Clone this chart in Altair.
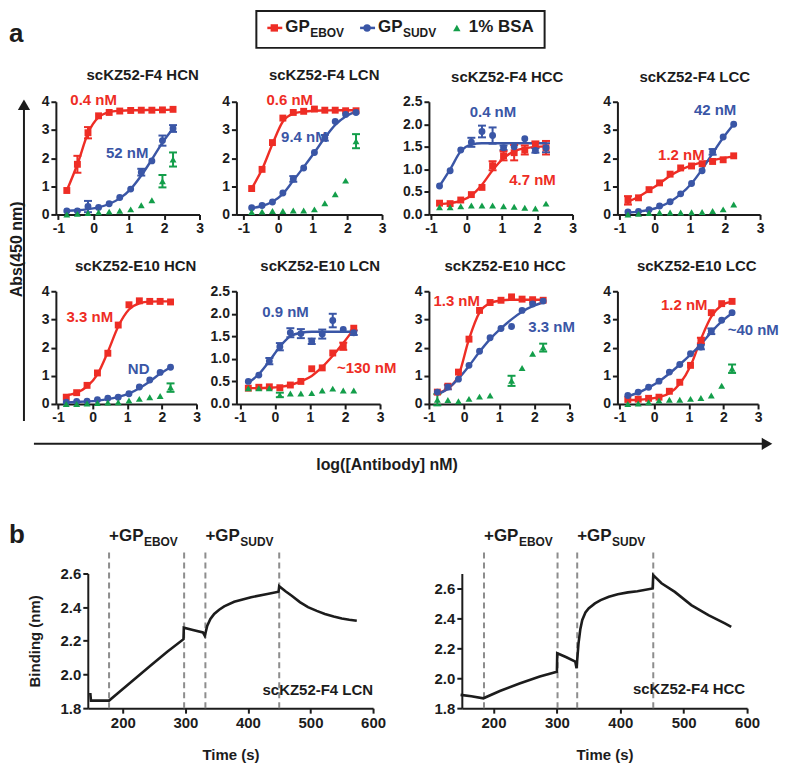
import altair as alt
import pandas as pd

FONT = "Liberation Sans"
INK = "#1c1c1c"
RED = "#EE2D25"
BLUE = "#3A56A6"
GREEN = "#139E4A"
DASH_GRAY = "#8d8d8d"

SERIES = ["EBOV", "SUDV", "BSA"]
SERIES_SHAPES = ["square", "circle", "triangle-up"]

LOG_CONC = [-0.76, -0.46, -0.16, 0.14, 0.44, 0.74, 1.05, 1.35, 1.65, 1.95, 2.25]
X_TICKS = [-1, 0, 1, 2, 3]
Y_TICKS_4 = [0, 1, 2, 3, 4]
Y_TICKS_25 = [0, 0.5, 1.0, 1.5, 2.0, 2.5]

# ---------------- panel a data ----------------
F4_HCN_EBOV = [0.85, 1.78, 2.9, 3.5, 3.62, 3.67, 3.69, 3.7, 3.7, 3.71, 3.73]
F4_HCN_EBOV_ERR = [0, 0.3, 0.2, 0, 0, 0, 0, 0, 0, 0, 0]
F4_HCN_EBOV_FIT = [0.85, 1.78, 2.88, 3.45, 3.63, 3.68, 3.7, 3.7, 3.71, 3.71, 3.72]
F4_HCN_SUDV = [0.12, 0.12, 0.28, 0.25, 0.38, 0.6, 0.9, 1.5, 1.9, 2.62, 3.05]
F4_HCN_SUDV_ERR = [0, 0, 0.2, 0, 0, 0, 0, 0.12, 0, 0.18, 0.12]
F4_HCN_SUDV_FIT = [0.13, 0.15, 0.19, 0.25, 0.37, 0.57, 0.9, 1.38, 1.95, 2.55, 3.05]
F4_HCN_BSA = [0.0, 0.02, 0.05, 0.08, 0.1, 0.13, 0.18, 0.33, 0.5, 1.18, 1.95]
F4_HCN_BSA_ERR = [0, 0, 0, 0, 0, 0, 0, 0, 0, 0.22, 0.25]
F4_HCN_EC50 = ["0.4 nM", "52 nM"]

F4_LCN_EBOV = [0.92, 1.6, 2.55, 3.42, 3.62, 3.66, 3.74, 3.7, 3.7, 3.68, 3.68]
F4_LCN_EBOV_ERR = [0, 0, 0, 0, 0, 0, 0, 0, 0, 0, 0]
F4_LCN_EBOV_FIT = [0.92, 1.6, 2.5, 3.3, 3.58, 3.65, 3.68, 3.69, 3.7, 3.7, 3.7]
F4_LCN_SUDV = [0.24, 0.32, 0.44, 0.76, 1.26, 1.65, 2.2, 2.72, 3.3, 3.55, 3.62]
F4_LCN_SUDV_ERR = [0, 0, 0, 0, 0.1, 0, 0, 0.1, 0, 0, 0]
F4_LCN_SUDV_FIT = [0.22, 0.3, 0.45, 0.73, 1.2, 1.68, 2.2, 2.72, 3.18, 3.48, 3.65]
F4_LCN_BSA = [0.09, 0.1, 0.12, 0.12, 0.14, 0.14, 0.18, 0.4, 0.72, 1.2, 2.6]
F4_LCN_BSA_ERR = [0, 0, 0, 0, 0, 0, 0, 0, 0, 0, 0.25]
F4_LCN_EC50 = ["0.6 nM", "9.4 nM"]

F4_HCC_EBOV = [0.25, 0.24, 0.32, 0.44, 0.6, 1.08, 1.3, 1.37, 1.43, 1.55, 1.48]
F4_HCC_EBOV_ERR = [0, 0, 0, 0, 0, 0.1, 0.1, 0.17, 0.1, 0.07, 0.15]
F4_HCC_EBOV_FIT = [0.23, 0.25, 0.3, 0.42, 0.66, 0.98, 1.25, 1.4, 1.47, 1.5, 1.51]
F4_HCC_SUDV = [0.63, 0.97, 1.43, 1.6, 1.84, 1.75, 1.48, 1.5, 1.68, 1.42, 1.48]
F4_HCC_SUDV_ERR = [0, 0, 0, 0.1, 0.13, 0.18, 0.05, 0, 0, 0.05, 0.1]
F4_HCC_SUDV_FIT = [0.63, 1.0, 1.4, 1.55, 1.58, 1.58, 1.58, 1.58, 1.58, 1.58, 1.58]
F4_HCC_BSA = [0.16, 0.16, 0.18, 0.2, 0.2, 0.2, 0.18, 0.17, 0.15, 0.13, 0.24]
F4_HCC_BSA_ERR = [0, 0, 0, 0, 0, 0, 0, 0, 0, 0, 0]
F4_HCC_EC50 = ["4.7 nM", "0.4 nM"]

F4_LCC_EBOV = [0.5, 0.59, 0.88, 1.12, 1.43, 1.65, 1.72, 1.8, 1.88, 1.94, 2.08]
F4_LCC_EBOV_ERR = [0.15, 0, 0, 0, 0, 0, 0, 0, 0, 0, 0]
F4_LCC_EBOV_FIT = [0.45, 0.63, 0.86, 1.1, 1.37, 1.58, 1.74, 1.85, 1.93, 2.0, 2.06]
F4_LCC_SUDV = [0.09, 0.11, 0.17, 0.3, 0.45, 0.73, 1.1, 1.55, 2.22, 2.75, 3.2]
F4_LCC_SUDV_ERR = [0, 0, 0, 0, 0, 0, 0, 0, 0.1, 0, 0]
F4_LCC_SUDV_FIT = [0.07, 0.1, 0.16, 0.27, 0.45, 0.72, 1.1, 1.6, 2.17, 2.72, 3.2]
F4_LCC_BSA = [0.0, 0.02, 0.05, 0.07, 0.07, 0.07, 0.08, 0.09, 0.12, 0.18, 0.35]
F4_LCC_BSA_ERR = [0, 0, 0, 0, 0, 0, 0, 0, 0, 0, 0]
F4_LCC_EC50 = ["1.2 nM", "42 nM"]

E10_HCN_EBOV = [0.24, 0.4, 0.66, 1.1, 1.8, 2.8, 3.52, 3.66, 3.64, 3.64, 3.62]
E10_HCN_EBOV_ERR = [0, 0, 0, 0, 0, 0, 0, 0, 0, 0, 0]
E10_HCN_EBOV_FIT = [0.3, 0.4, 0.62, 1.05, 1.85, 2.75, 3.35, 3.57, 3.63, 3.64, 3.64]
E10_HCN_SUDV = [0.06, 0.09, 0.1, 0.15, 0.2, 0.24, 0.36, 0.6, 0.85, 1.12, 1.3]
E10_HCN_SUDV_ERR = [0, 0, 0, 0, 0, 0, 0, 0, 0, 0, 0]
E10_HCN_SUDV_FIT = [0.05, 0.07, 0.09, 0.12, 0.17, 0.25, 0.37, 0.56, 0.8, 1.07, 1.3]
E10_HCN_BSA = [0.0, 0.0, 0.02, 0.03, 0.05, 0.06, 0.12, 0.18, 0.24, 0.28, 0.58]
E10_HCN_BSA_ERR = [0, 0, 0, 0, 0, 0, 0, 0, 0, 0, 0.15]
E10_HCN_EC50 = ["3.3 nM", "ND"]

E10_LCN_EBOV = [0.35, 0.37, 0.38, 0.36, 0.42, 0.5, 0.78, 0.8, 1.13, 1.28, 1.68]
E10_LCN_EBOV_ERR = [0, 0, 0, 0, 0, 0, 0, 0, 0, 0.08, 0]
E10_LCN_EBOV_FIT = [0.35, 0.35, 0.36, 0.38, 0.42, 0.5, 0.62, 0.82, 1.07, 1.35, 1.66]
E10_LCN_SUDV = [0.5, 0.64, 0.95, 1.27, 1.58, 1.56, 1.39, 1.55, 1.85, 1.65, 1.58]
E10_LCN_SUDV_ERR = [0, 0, 0.07, 0.08, 0.1, 0.1, 0.06, 0.1, 0.15, 0, 0.05]
E10_LCN_SUDV_FIT = [0.47, 0.66, 0.95, 1.27, 1.5, 1.58, 1.6, 1.6, 1.6, 1.6, 1.6]
E10_LCN_BSA = [0.35, 0.35, 0.35, 0.2, 0.23, 0.23, 0.24, 0.3, 0.34, 0.3, 0.3]
E10_LCN_BSA_ERR = [0, 0, 0, 0.05, 0, 0, 0, 0, 0, 0, 0]
E10_LCN_EC50 = ["~130 nM", "0.9 nM"]

E10_HCC_EBOV = [0.42, 0.63, 1.13, 2.3, 3.32, 3.6, 3.68, 3.8, 3.72, 3.7, 3.68]
E10_HCC_EBOV_ERR = [0, 0, 0, 0, 0, 0, 0, 0, 0, 0, 0]
E10_HCC_EBOV_FIT = [0.38, 0.55, 1.0, 2.3, 3.25, 3.58, 3.67, 3.7, 3.7, 3.7, 3.7]
E10_HCC_SUDV = [0.42, 0.6, 0.88, 1.37, 1.87, 2.35, 2.68, 2.75, 3.32, 3.55, 3.65]
E10_HCC_SUDV_ERR = [0, 0.08, 0, 0, 0, 0, 0, 0, 0, 0, 0]
E10_HCC_SUDV_FIT = [0.33, 0.55, 0.9, 1.35, 1.85, 2.3, 2.68, 3.0, 3.27, 3.47, 3.6]
E10_HCC_BSA = [0.15, 0.14, 0.1, 0.18, 0.26, 0.3, None, 0.82, 1.28, 1.78, 2.0]
E10_HCC_BSA_ERR = [0.2, 0, 0, 0, 0, 0, 0, 0.18, 0, 0, 0.14]
E10_HCC_EC50 = ["1.3 nM", "3.3 nM"]

E10_LCC_EBOV = [0.16, 0.17, 0.2, 0.24, 0.45, 0.77, 1.37, 2.25, 3.24, 3.56, 3.64]
E10_LCC_EBOV_ERR = [0, 0, 0, 0, 0, 0, 0, 0.1, 0, 0, 0]
E10_LCC_EBOV_FIT = [0.14, 0.15, 0.18, 0.24, 0.38, 0.72, 1.35, 2.3, 3.1, 3.5, 3.63]
E10_LCC_SUDV = [0.3, 0.42, 0.59, 0.81, 1.13, 1.4, 1.78, 2.02, 2.58, 2.97, 3.24]
E10_LCC_SUDV_ERR = [0, 0, 0, 0, 0, 0, 0, 0.08, 0.1, 0, 0]
E10_LCC_SUDV_FIT = [0.27, 0.4, 0.58, 0.8, 1.08, 1.4, 1.75, 2.12, 2.55, 2.93, 3.22]
E10_LCC_BSA = [0.0, 0.02, 0.06, 0.12, 0.15, 0.15, 0.18, 0.21, 0.3, 0.65, 1.25]
E10_LCC_BSA_ERR = [0, 0, 0, 0, 0, 0, 0, 0, 0, 0, 0.15]
E10_LCC_EC50 = ["1.2 nM", "~40 nM"]

# ---------------- panel b data ----------------
B_X_TICKS = [200, 300, 400, 500, 600]
B_Y_TICKS = [1.8, 2.0, 2.2, 2.4, 2.6]

LCN_TIME = [148, 149, 165, 178, 191, 218, 245, 271, 297, 297.5, 312, 328, 331, 335, 340,
            346, 354, 362, 378, 405, 431, 449, 450, 460, 470, 483, 496, 510, 523, 537,
            550, 562, 574]
LCN_BIND = [1.89, 1.845, 1.845, 1.845, 1.885, 1.97, 2.055, 2.135, 2.21, 2.278, 2.265, 2.25,
            2.23, 2.29, 2.33, 2.36, 2.385, 2.405, 2.432, 2.459, 2.478, 2.492, 2.525, 2.495,
            2.468, 2.43, 2.40, 2.378, 2.36, 2.345, 2.333, 2.325, 2.319]
LCN_EVENTS = [178, 298, 332, 450]

HCC_TIME = [148, 165, 184, 210, 241, 273, 300, 300.5, 315, 329, 331, 334, 337, 340, 345,
            350, 360, 369, 382, 396, 412, 427, 451, 452, 465, 486, 512, 539, 565, 575]
HCC_BIND = [1.889, 1.88, 1.866, 1.915, 1.965, 2.011, 2.044, 2.167, 2.14, 2.111, 2.067, 2.23,
            2.33, 2.39, 2.44, 2.467, 2.50, 2.522, 2.545, 2.562, 2.574, 2.582, 2.6, 2.689,
            2.635, 2.577, 2.489, 2.422, 2.367, 2.344]
HCC_EVENTS = [185, 301, 332, 452]

EVENT_SUBS = ["EBOV", "SUDV"]
LEGEND_MAIN = ["GP", "GP", "1% BSA"]
LEGEND_SUB = ["EBOV", "SUDV", ""]

ONE = pd.DataFrame({"k": [0]})


def txt(s, x, y, size, color=INK, align="left", baseline="middle", angle=0):
    return alt.Chart(ONE).mark_text(
        text=s, font=FONT, fontSize=size, fontWeight="bold", color=color,
        align=align, baseline=baseline, angle=angle
    ).encode(x=alt.value(x), y=alt.value(y))


def spacer(w, h):
    return alt.Chart(ONE).mark_point(opacity=0, size=1).encode(
        x=alt.value(0), y=alt.value(0)).properties(width=w, height=h)


def panel(title, title_dx, xdom, cell_w, plot_w, ydom, yticks, fmt,
          ebov, ebov_err, ebov_fit, sudv, sudv_err, sudv_fit, bsa, bsa_err,
          ec50, ec50_pos):
    rows = []
    for s, vals, errs in ((SERIES[0], ebov, ebov_err), (SERIES[1], sudv, sudv_err),
                          (SERIES[2], bsa, bsa_err)):
        for x, v, e in zip(LOG_CONC, vals, errs):
            if v is None:
                continue
            rows.append({"x": x, "y": v, "lo": v - e, "hi": v + e, "e": e, "series": s})
    pts = pd.DataFrame(rows)
    err = pts[pts["e"] > 0].reset_index(drop=True)
    fit_rows = []
    for s, fit in ((SERIES[0], ebov_fit), (SERIES[1], sudv_fit)):
        for x, v in zip(LOG_CONC, fit):
            fit_rows.append({"x": x, "y": v, "series": s})
    fits = pd.DataFrame(fit_rows)
    labs = pd.DataFrame({"x": [p[0] for p in ec50_pos], "y": [p[1] for p in ec50_pos],
                         "txt": ec50, "series": SERIES[:2]})

    xs = alt.Scale(domain=xdom, range=[0, plot_w], nice=False, zero=False)
    ys = alt.Scale(domain=ydom, nice=False, zero=False)
    xax = alt.Axis(values=X_TICKS, title=None, labelExpr="'' + datum.value")
    yax = alt.Axis(values=yticks, title=None, format=fmt)
    X = alt.X("x:Q", scale=xs, axis=xax)
    Y = alt.Y("y:Q", scale=ys, axis=yax)
    col = alt.Color("series:N", scale=alt.Scale(domain=SERIES, range=[RED, BLUE, GREEN]), legend=None)
    shp = alt.Shape("series:N", scale=alt.Scale(domain=SERIES, range=SERIES_SHAPES), legend=None)

    lines = alt.Chart(fits).mark_line(interpolate="monotone", strokeWidth=2.4).encode(x=X, y=Y, color=col)
    bars = alt.Chart(err).mark_rule(strokeWidth=2).encode(
        x=X, y=alt.Y("lo:Q", scale=ys, axis=yax), y2="hi:Q", color=col)
    cap_lo = alt.Chart(err).mark_tick(orient="horizontal", size=8, thickness=2, opacity=1).encode(
        x=X, y=alt.Y("lo:Q", scale=ys, axis=yax), color=col)
    cap_hi = alt.Chart(err).mark_tick(orient="horizontal", size=8, thickness=2, opacity=1).encode(
        x=X, y=alt.Y("hi:Q", scale=ys, axis=yax), color=col)
    points = alt.Chart(pts).mark_point(filled=True, opacity=1, size=48).encode(
        x=X, y=Y, color=col, shape=shp)
    labels = alt.Chart(labs).mark_text(font=FONT, fontSize=15, fontWeight="bold").encode(
        x=X, y=Y, text="txt:N", color=col)
    return alt.layer(lines, bars, cap_lo, cap_hi, points, labels).properties(
        width=cell_w, height=113,
        title=alt.TitleParams(text=title, dx=title_dx, offset=10, frame="group", anchor="middle",
                              font=FONT, fontSize=15, fontWeight="bold", color=INK))


def bpanel(times, binds, events, tag, tag_y, tag_dx, xdom, ydom, ytitle, cell_w):
    line_df = pd.DataFrame({"t": times, "v": binds, "i": list(range(len(times)))})
    ev_df = pd.DataFrame({"t": events})
    lab_df = pd.DataFrame({"t": [events[0], events[2]], "sub": EVENT_SUBS})
    tag_df = pd.DataFrame({"t": [xdom[1]], "v": [tag_y], "tag": [tag]})
    xs = alt.Scale(domain=xdom, range=[0, 286], nice=False, zero=False)
    ys = alt.Scale(domain=ydom, nice=False, zero=False)
    xax = alt.Axis(values=B_X_TICKS, title="Time (s)", labelFontSize=15,
                   titleFontSize=15, titlePadding=17)
    yax = alt.Axis(values=B_Y_TICKS, format=".1f", title=ytitle, labelFontSize=15,
                   titleFontSize=15, titlePadding=18)
    X = alt.X("t:Q", scale=xs, axis=xax)
    Y = alt.Y("v:Q", scale=ys, axis=yax)
    line = alt.Chart(line_df).mark_line(color=INK, strokeWidth=2.6).encode(x=X, y=Y, order="i:Q")
    dashes = alt.Chart(ev_df).mark_rule(strokeDash=[6, 4], strokeWidth=2, color=DASH_GRAY).encode(
        x=X, y=alt.value(135), y2=alt.value(-25))
    main = alt.Chart(lab_df).mark_text(text="+GP", font=FONT, fontSize=17, fontWeight="bold",
                                       color=INK, align="left", baseline="middle").encode(
        x=X, y=alt.value(-38))
    sub = alt.Chart(lab_df).mark_text(font=FONT, fontSize=12, fontWeight="bold", color=INK,
                                      align="left", baseline="middle", dx=35).encode(
        x=X, y=alt.value(-32), text="sub:N")
    tagm = alt.Chart(tag_df).mark_text(font=FONT, fontSize=15, fontWeight="bold", color=INK,
                                       align="right", baseline="middle", dx=tag_dx).encode(
        x=X, y=Y, text="tag:N")
    return alt.layer(dashes, line, main, sub, tagm).properties(width=cell_w, height=135)


def header():
    layers = [
        txt("a", 0, 32, 26, baseline="alphabetic"),
        alt.Chart(ONE).mark_rect(fillOpacity=0, stroke=INK, strokeWidth=2).encode(
            x=alt.value(248), x2=alt.value(537), y=alt.value(1), y2=alt.value(38)),
        alt.Chart(ONE).mark_rule(color=RED, strokeWidth=2.5).encode(
            x=alt.value(259), x2=alt.value(274), y=alt.value(18)),
        alt.Chart(ONE).mark_point(shape="square", filled=True, opacity=1, size=55, color=RED).encode(
            x=alt.value(266), y=alt.value(18)),
        alt.Chart(ONE).mark_rule(color=BLUE, strokeWidth=2.5).encode(
            x=alt.value(352), x2=alt.value(367), y=alt.value(18)),
        alt.Chart(ONE).mark_point(shape="circle", filled=True, opacity=1, size=55, color=BLUE).encode(
            x=alt.value(359), y=alt.value(18)),
        alt.Chart(ONE).mark_point(shape="triangle-up", filled=True, opacity=1, size=55, color=GREEN).encode(
            x=alt.value(449), y=alt.value(18)),
        txt(LEGEND_MAIN[0], 277, 17, 17),
        txt(LEGEND_SUB[0], 302, 23, 12),
        txt(LEGEND_MAIN[1], 370, 17, 17),
        txt(LEGEND_SUB[1], 395, 23, 12),
        txt(LEGEND_MAIN[2], 461, 17, 17),
    ]
    return alt.layer(*layers).properties(width=47, height=92)


def left_deco():
    layers = [
        alt.Chart(ONE).mark_rule(color=INK, strokeWidth=2).encode(
            x=alt.value(15), y=alt.value(8), y2=alt.value(320)),
        alt.Chart(ONE).mark_point(shape="triangle-up", filled=True, opacity=1, size=150, color=INK).encode(
            x=alt.value(15), y=alt.value(3)),
        txt("Abs(450 nm)", 0, 148, 16, align="center", baseline="top", angle=270),
    ]
    return alt.layer(*layers).properties(width=47, height=113)


def mid_deco():
    layers = [
        alt.Chart(ONE).mark_rule(color=INK, strokeWidth=2).encode(
            x=alt.value(25), x2=alt.value(757), y=alt.value(40)),
        alt.Chart(ONE).mark_point(shape="triangle-right", filled=True, opacity=1, size=150, color=INK).encode(
            x=alt.value(760), y=alt.value(40)),
        txt("log([Antibody] nM)", 379, 61, 16, align="center"),
        txt("b", 0, 139, 26, baseline="alphabetic"),
    ]
    return alt.layer(*layers).properties(width=47, height=170)


# grid columns (widths): 47, 32, 149, 193, 33, 156, 161  -> total 771
COLS = [47, 32, 149, 193, 33, 156, 161]

p1 = panel("scKZ52-F4 HCN", 71, [-1.07, 3], 32, 144, [0, 4], Y_TICKS_4, "d",
           F4_HCN_EBOV, F4_HCN_EBOV_ERR, F4_HCN_EBOV_FIT, F4_HCN_SUDV, F4_HCN_SUDV_ERR,
           F4_HCN_SUDV_FIT, F4_HCN_BSA, F4_HCN_BSA_ERR, F4_HCN_EC50, [(0.0, 4.07), (0.95, 2.18)])
p2 = panel("scKZ52-F4 LCN", 15, [-1.2, 3], 146, 146, [0, 4], Y_TICKS_4, "d",
           F4_LCN_EBOV, F4_LCN_EBOV_ERR, F4_LCN_EBOV_FIT, F4_LCN_SUDV, F4_LCN_SUDV_ERR,
           F4_LCN_SUDV_FIT, F4_LCN_BSA, F4_LCN_BSA_ERR, F4_LCN_EC50, [(0.34, 4.07), (0.76, 2.76)])
p3 = panel("scKZ52-F4 HCC", 62, [-1.06, 3], 33, 144, [0, 2.5], Y_TICKS_25, ".1f",
           F4_HCC_EBOV, F4_HCC_EBOV_ERR, F4_HCC_EBOV_FIT, F4_HCC_SUDV, F4_HCC_SUDV_ERR,
           F4_HCC_SUDV_FIT, F4_HCC_BSA, F4_HCC_BSA_ERR, F4_HCC_EC50, [(1.87, 0.77), (0.75, 2.28)])
p4 = panel("scKZ52-F4 LCC", 6, [-1.06, 3], 143, 143, [0, 4], Y_TICKS_4, "d",
           F4_LCC_EBOV, F4_LCC_EBOV_ERR, F4_LCC_EBOV_FIT, F4_LCC_SUDV, F4_LCC_SUDV_ERR,
           F4_LCC_SUDV_FIT, F4_LCC_BSA, F4_LCC_BSA_ERR, F4_LCC_EC50, [(0.76, 2.12), (1.72, 3.7)])
p5 = panel("scKZ52-E10 HCN", 64, [-1.06, 3], 32, 141, [0, 4], Y_TICKS_4, "d",
           E10_HCN_EBOV, E10_HCN_EBOV_ERR, E10_HCN_EBOV_FIT, E10_HCN_SUDV, E10_HCN_SUDV_ERR,
           E10_HCN_SUDV_FIT, E10_HCN_BSA, E10_HCN_BSA_ERR, E10_HCN_EC50, [(-0.08, 3.07), (1.33, 1.25)])
p6 = panel("scKZ52-E10 LCN", 12, [-1.1, 3], 144, 144, [0, 2.5], Y_TICKS_25, ".1f",
           E10_LCN_EBOV, E10_LCN_EBOV_ERR, E10_LCN_EBOV_FIT, E10_LCN_SUDV, E10_LCN_SUDV_ERR,
           E10_LCN_SUDV_FIT, E10_LCN_BSA, E10_LCN_BSA_ERR, E10_LCN_EC50, [(2.62, 0.79), (0.3, 2.05)])
p7 = panel("scKZ52-E10 HCC", 60, [-1.0, 3], 33, 141, [0, 4], Y_TICKS_4, "d",
           E10_HCC_EBOV, E10_HCC_EBOV_ERR, E10_HCC_EBOV_FIT, E10_HCC_SUDV, E10_HCC_SUDV_ERR,
           E10_HCC_SUDV_FIT, E10_HCC_BSA, E10_HCC_BSA_ERR, E10_HCC_EC50, [(-0.21, 3.64), (2.49, 2.72)])
p8 = panel("scKZ52-E10 LCC", 9, [-1.06, 3], 141, 141, [0, 4], Y_TICKS_4, "d",
           E10_LCC_EBOV, E10_LCC_EBOV_ERR, E10_LCC_EBOV_FIT, E10_LCC_SUDV, E10_LCC_SUDV_ERR,
           E10_LCC_SUDV_FIT, E10_LCC_BSA, E10_LCC_BSA_ERR, E10_LCC_EC50, [(0.87, 3.5), (2.86, 2.61)])

b1 = bpanel(LCN_TIME, LCN_BIND, LCN_EVENTS, "scKZ52-F4 LCN", 1.907, 0, [144, 600], [1.8, 2.6],
            "Binding (nm)", 149)
b2 = bpanel(HCC_TIME, HCC_BIND, HCC_EVENTS, "scKZ52-F4 HCC", 1.927, -2, [150, 600], [1.8, 2.7],
            None, 156)

cells = (
    [header()] + [spacer(w, 92) for w in COLS[1:]]
    + [left_deco(), p1, spacer(1, 113), p2, p3, spacer(1, 113), p4]
    + [spacer(1, 77) for _ in COLS]
    + [spacer(1, 113), p5, spacer(1, 113), p6, p7, spacer(1, 113), p8]
    + [mid_deco()] + [spacer(1, 170) for _ in COLS[1:]]
    + [spacer(1, 135), spacer(1, 135), b1, spacer(1, 135), spacer(1, 135), b2, spacer(1, 135)]
)

chart = alt.concat(*cells, columns=7, spacing=0, bounds="flush", align="each").properties(
    padding=0
).configure_view(stroke=None).configure_axis(
    labelFont=FONT, labelFontSize=14, labelFontWeight="bold", labelColor=INK,
    titleFont=FONT, titleFontWeight="bold", titleColor=INK,
    domainColor=INK, domainWidth=2, tickColor=INK, tickWidth=2, tickSize=5,
    labelPadding=2, grid=False, labelFlush=False, labelOverlap=False
)

chart.save("out.html", embed_options={"renderer": "svg", "actions": False})
